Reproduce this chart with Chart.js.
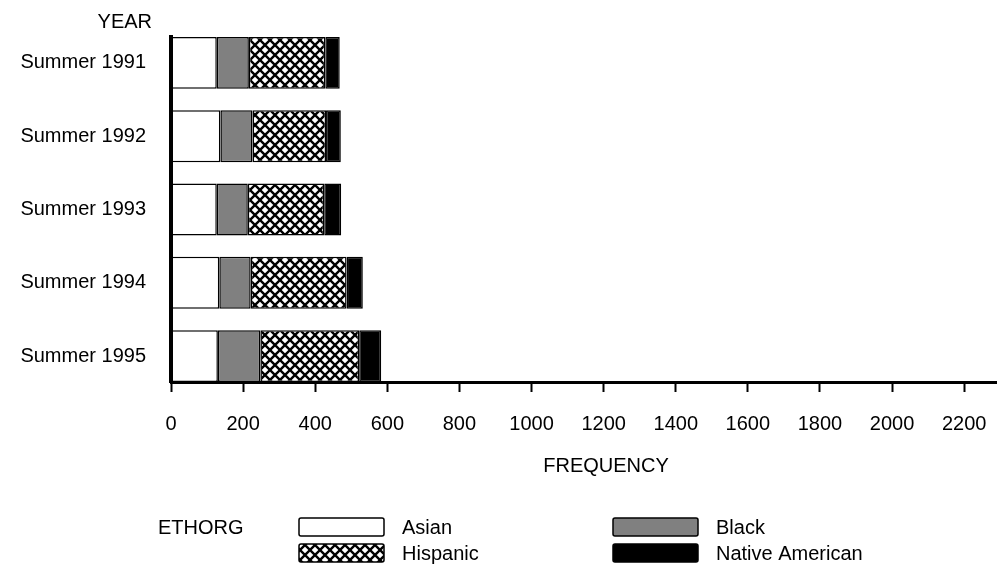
<!DOCTYPE html>
<html>
<head>
<meta charset="utf-8">
<script src="https://cdn.jsdelivr.net/npm/chart.js@4/dist/chart.umd.min.js"></script>
<style>
  html, body { margin: 0; padding: 0; background: #fff; }
  #wrap { width: 997px; height: 567px; }
</style>
</head>
<body>
<div id="wrap"><canvas id="c" width="997" height="567"></canvas></div>
<script>
const categories = ["Summer 1991", "Summer 1992", "Summer 1993", "Summer 1994", "Summer 1995"];
const seriesNames = ["Asian", "Black", "Hispanic", "Native American"];
const asian    = [127, 137, 127, 134, 130];
const black    = [89, 89, 86, 87, 118];
const hispanic = [212, 204, 212, 266, 274];
const native   = [40, 41, 47, 45, 61];
const xTicks   = [0, 200, 400, 600, 800, 1000, 1200, 1400, 1600, 1800, 2000, 2200];
const yAxisTitle = "YEAR";
const xAxisTitle = "FREQUENCY";
const legendTitle = "ETHORG";

const FONT = '"Liberation Sans", Arial, Helvetica, sans-serif';

function makeHatch() {
  const c = document.createElement('canvas');
  c.width = 10; c.height = 10;
  const g = c.getContext('2d');
  g.fillStyle = '#fff';
  g.fillRect(0, 0, 10, 10);
  g.strokeStyle = '#000';
  g.lineWidth = 2.4;
  g.beginPath();
  g.moveTo(-2, -2); g.lineTo(12, 12);
  g.moveTo(-2, 12); g.lineTo(12, -2);
  g.stroke();
  return g.createPattern(c, 'repeat');
}
const hatch = makeHatch();

const fills = ['#ffffff', '#808080', hatch, '#000000'];
const values = [asian, black, hispanic, native];

const datasets = values.map((arr, k) => ({
  label: seriesNames[k],
  data: arr.map((v, i) => ({ x: v, y: i })),
  backgroundColor: fills[k],
  borderColor: '#000',
  borderWidth: 1.5,
  borderSkipped: false,
  categoryPercentage: 1,
  barPercentage: 0.7075
}));

const overlay = {
  id: 'overlay',
  afterDraw(chart) {
    const ctx = chart.ctx;
    ctx.save();
    ctx.fillStyle = '#000';
    ctx.font = '20px ' + FONT;
    ctx.textBaseline = 'middle';
    ctx.textAlign = 'right';
    ctx.fillText(yAxisTitle, 152, 22);
    ctx.textAlign = 'center';
    ctx.fillText(xAxisTitle, 606, 466);
    ctx.textAlign = 'left';
    ctx.fillText(legendTitle, 158, 528);
    const boxes = [
      { x: 299, y: 518, label: seriesNames[0], fill: fills[0] },
      { x: 613, y: 518, label: seriesNames[1], fill: fills[1] },
      { x: 299, y: 544, label: seriesNames[2], fill: fills[2] },
      { x: 613, y: 544, label: seriesNames[3], fill: fills[3] }
    ];
    boxes.forEach(b => {
      ctx.beginPath();
      if (ctx.roundRect) ctx.roundRect(b.x, b.y, 85, 18, 2); else ctx.rect(b.x, b.y, 85, 18);
      ctx.fillStyle = b.fill;
      ctx.fill();
      ctx.lineWidth = 1.5;
      ctx.strokeStyle = '#000';
      ctx.stroke();
      ctx.fillStyle = '#000';
      ctx.fillText(b.label, b.x + 103, b.y + 10);
    });
    ctx.restore();
  }
};

new Chart(document.getElementById('c'), {
  type: 'bar',
  data: { datasets },
  plugins: [overlay],
  options: {
    indexAxis: 'y',
    responsive: false,
    animation: false,
    events: [],
    layout: { padding: { top: 35, right: 0, bottom: 0, left: 0 } },
    plugins: { legend: { display: false }, tooltip: { enabled: false }, title: { display: false } },
    scales: {
      x: {
        type: 'linear',
        position: 'bottom',
        stacked: true,
        min: 0,
        max: 2291,
        offset: false,
        afterBuildTicks(scale) {
          scale.ticks = xTicks.map(v => ({ value: v }));
        },
        afterFit(scale) {
          scale.height = 185;
          scale.paddingLeft = 0;
          scale.paddingRight = 0;
        },
        grid: { display: true, offset: false, drawOnChartArea: false, drawTicks: true, tickLength: 10, tickColor: '#000', tickWidth: 2 },
        border: { display: true, color: '#000', width: 3 },
        ticks: {
          color: '#000', padding: 20, font: { family: FONT, size: 20 }, maxRotation: 0, autoSkip: false,
          callback: (v) => String(v)
        }
      },
      y: {
        type: 'linear',
        position: 'left',
        stacked: true,
        reverse: true,
        offset: false,
        min: -0.354,
        max: 4.354,
        afterBuildTicks(scale) {
          scale.ticks = categories.map((c, i) => ({ value: i }));
        },
        afterFit(scale) { scale.width = 171; },
        grid: { display: false, offset: false, drawTicks: false },
        border: { display: true, color: '#000', width: 4 },
        ticks: {
          color: '#000',
          padding: 25,
          autoSkip: false,
          font: { family: FONT, size: 20 },
          callback: (v) => categories[v]
        }
      }
    }
  }
});
</script>
</body>
</html>
